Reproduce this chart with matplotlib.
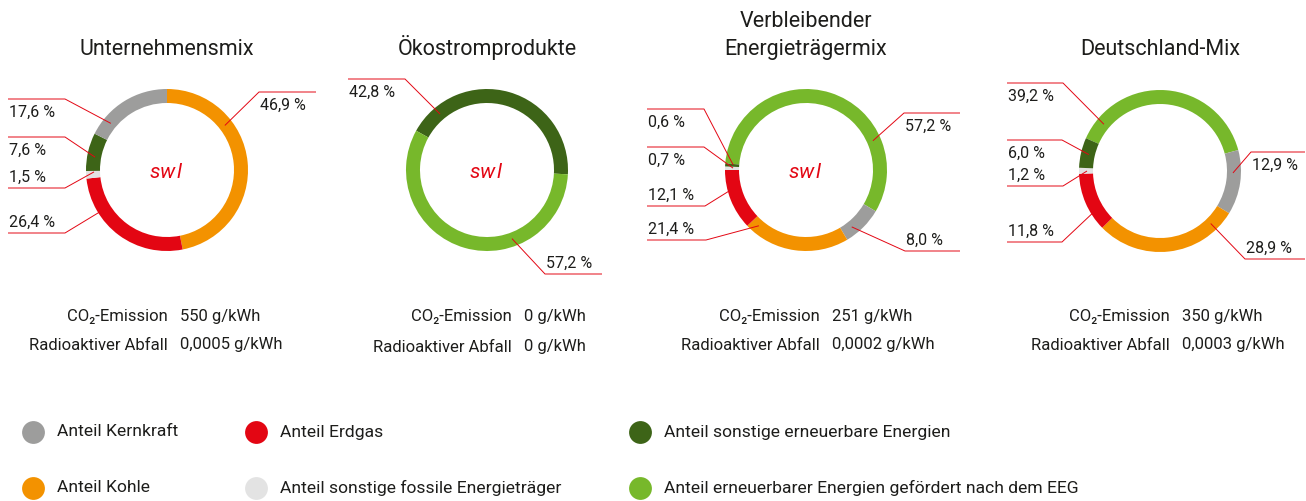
import numpy as np
import matplotlib.pyplot as plt

plt.rcParams["font.family"] = ["Roboto", "DejaVu Sans"]

W, H = 1306, 501
TEXT_COLOR = "#1d1d1b"
LINE_COLOR = "#e30613"

# energy sources -> colours
COLORS = {
    "Kernkraft": "#9d9d9c",
    "Kohle": "#f39200",
    "Erdgas": "#e30613",
    "fossil": "#e3e3e3",
    "sonst_ern": "#3d6417",
    "eeg": "#77b82b",
}

titles = ["Unternehmensmix", "Ökostromprodukte",
          "Verbleibender\nEnergieträgermix", "Deutschland-Mix"]

# shares, listed clockwise
unternehmen_keys = ["Kohle", "Erdgas", "fossil", "sonst_ern", "Kernkraft"]
unternehmen_vals = [46.9, 26.4, 1.5, 7.6, 17.6]
oeko_keys = ["sonst_ern", "eeg"]
oeko_vals = [42.8, 57.2]
rest_keys = ["eeg", "Kernkraft", "Kohle", "Erdgas", "fossil", "sonst_ern"]
rest_vals = [57.2, 8.0, 21.4, 12.1, 0.7, 0.6]
de_keys = ["eeg", "Kernkraft", "Kohle", "Erdgas", "fossil", "sonst_ern"]
de_vals = [39.2, 12.9, 28.9, 11.8, 1.2, 6.0]

co2 = ["550 g/kWh", "0 g/kWh", "251 g/kWh", "350 g/kWh"]
waste = ["0,0005 g/kWh", "0 g/kWh", "0,0002 g/kWh", "0,0003 g/kWh"]

legend_keys = ["Kernkraft", "Erdgas", "sonst_ern", "Kohle", "fossil", "eeg"]
legend_labels = ["Anteil Kernkraft", "Anteil Erdgas",
                 "Anteil sonstige erneuerbare Energien", "Anteil Kohle",
                 "Anteil sonstige fossile Energieträger",
                 "Anteil erneuerbarer Energien gefördert nach dem EEG"]

# layout (pixel coords, y from top)
CENTERS = [(167, 170), (487, 170), (806, 170), (1160, 171)]
START = [90, 151, 175.3, 156.1]
RADIUS = 81
RING = 14
HAS_LOGO = [True, True, True, False]
DIVIDER = [174, 518, 826, 1176]
INFO_Y = [(317, 345), (317, 347), (317, 345), (317, 345)]
# leader lines: (wedge index, anchor angle, elbow x, elbow y, end x, text side)
LEADERS = [
    [(0, 37.6, 259, 92, 316, "below"), (4, 140.3, 65, 99, 8, "below"),
     (3, 169.9, 65, 137, 8, "below"), (2, 181.5, 65, 188, 8, "above"),
     (1, 212, 65, 233, 8, "above")],
    [(0, 130, 405, 79, 348, "below"), (1, -70, 545, 274, 602, "above")],
    [(5, 176, 704, 109, 647, "below"), (4, 178.5, 704, 147, 647, "below"),
     (3, 193.7, 705, 206, 647, "above"), (2, 229.8, 706, 240, 647, "above"),
     (0, 23.6, 904, 113, 960, "below"), (1, -51.2, 905, 251, 960, "above")],
    [(0, 140.2, 1063, 83, 1007, "below"), (5, 167, 1062, 140, 1007, "below"),
     (4, 180, 1063, 186, 1007, "above"), (3, 211, 1062, 242, 1007, "above"),
     (1, -1.5, 1251, 152, 1305, "below"), (2, -46, 1245, 259, 1305, "above")],
]
LEGEND_X = [33, 256, 640, 33, 256, 640]
LEGEND_Y = [432, 432, 432, 488, 488, 488]


def fy(y):
    return H - y


fig = plt.figure(figsize=(W / 100, H / 100), dpi=100)
ax = fig.add_axes([0, 0, 1, 1])

donuts = [(unternehmen_keys, unternehmen_vals), (oeko_keys, oeko_vals),
          (rest_keys, rest_vals), (de_keys, de_vals)]

for i, (keys, vals) in enumerate(donuts):
    cx, cy = CENTERS[i]
    ax.pie(vals, colors=[COLORS[k] for k in keys], startangle=START[i],
           counterclock=False, radius=RADIUS, center=(cx, fy(cy)),
           wedgeprops=dict(width=RING, linewidth=0))

    # title
    for j, line in enumerate(titles[i].split("\n")[::-1]):
        ax.text(cx, fy(55 - 28 * j), line, ha="center", va="baseline",
                fontsize=15.5, color=TEXT_COLOR)

    # swl logo
    if HAS_LOGO[i]:
        for dx, ch in zip((-12, 0, 12), "swl"):
            ax.text(cx + dx, fy(cy + 2), ch, ha="center", va="center",
                    fontsize=15, color=LINE_COLOR, fontstyle="italic")

    # leader lines with labels
    for idx, ang, ex, ey, endx, side in LEADERS[i]:
        r = RADIUS - RING / 2 - 1
        axp = cx + r * np.cos(np.radians(ang))
        ayp = cy - r * np.sin(np.radians(ang))
        ax.plot([axp, ex, endx], [fy(ayp), fy(ey), fy(ey)], color=LINE_COLOR,
                lw=0.7, solid_capstyle="butt")
        tx = min(ex, endx) + 1
        ty = ey + 13 if side == "below" else ey - 11
        lbl = f"{vals[idx]:.1f}".replace(".", ",") + " %"
        ax.text(tx, fy(ty), lbl, ha="left", va="center", fontsize=11.5,
                color=TEXT_COLOR)

    # emission info
    d = DIVIDER[i]
    y1, y2 = INFO_Y[i]
    ax.text(d - 6, fy(y1), "CO₂-Emission", ha="right", va="center",
            fontsize=12, color=TEXT_COLOR)
    ax.text(d + 6, fy(y1), co2[i], ha="left", va="center",
            fontsize=12, color=TEXT_COLOR)
    ax.text(d - 6, fy(y2), "Radioaktiver Abfall", ha="right", va="center",
            fontsize=12, color=TEXT_COLOR)
    ax.text(d + 6, fy(y2), waste[i], ha="left", va="center",
            fontsize=12, color=TEXT_COLOR)

# legend
for k, lbl, lx, ly in zip(legend_keys, legend_labels, LEGEND_X, LEGEND_Y):
    ax.scatter([lx], [fy(ly)], s=270, color=COLORS[k], linewidths=0)
    ax.text(lx + 24, fy(ly), lbl, ha="left", va="center", fontsize=12.6,
            color=TEXT_COLOR)

ax.set_xlim(0, W)
ax.set_ylim(0, H)
ax.set_aspect("equal")
ax.axis("off")

fig.savefig("out.png", dpi=100)
